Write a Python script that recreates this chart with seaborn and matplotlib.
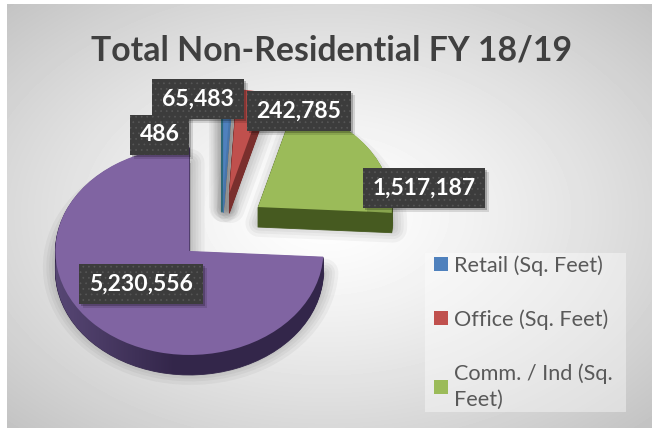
import numpy as np
import matplotlib
matplotlib.use("Agg")
import matplotlib.pyplot as plt
from matplotlib.patches import Rectangle
from matplotlib.transforms import IdentityTransform
import seaborn as sns

# values and labels
categories = ["Retail (Sq. Feet)", "Office (Sq. Feet)", "Comm. / Ind (Sq.\nFeet)", "Other", "Other 2"]
values = [65483, 242785, 1517187, 5230556, 486]
value_labels = ["65,483", "242,785", "1,517,187", "5,230,556", "486"]
explode = [0.33, 0.33, 0.33, 0.335, 0.335]
top_colors = ["#4f81bd", "#c0504d", "#9bbb59", "#8064a2", "#4bacc6"]
side_colors = ["#4775ab", "#7a2f2d", "#465a20", "#33264a", "#2c6a7a"]

W, H = 652, 428
RX, RY = 134, 104       # pixels for radius 1
CX, CY = 222, 227       # pixel position of the pie centre
DEPTH = 20

sns.set_theme(style="white")
plt.rcParams["font.family"] = ["Lato", "DejaVu Sans"]
plt.rcParams["hatch.linewidth"] = 0.5


def px(x, y):
    return (x - CX) / RX, (CY - y) / RY


fig = plt.figure(figsize=(W / 100, H / 100), dpi=100)
ax = fig.add_axes([0, 0, 1, 1])

pie_args = dict(explode=explode, startangle=90, counterclock=False, radius=1)

# soft shadow, wider and fainter outwards
for w in [20, 15, 11, 7, 3]:
    ax.pie(values, center=(0.01, -(DEPTH - 4) / RY), colors=["#000000"] * 5,
           wedgeprops=dict(lw=w, edgecolor="#000000", alpha=0.04, joinstyle="round"), **pie_args)

# side of the slices
for k in range(DEPTH, 0, -1):
    side, _ = ax.pie(values, center=(0, -k / RY), colors=side_colors,
                     wedgeprops=dict(lw=0.6, joinstyle="round"), **pie_args)
    for wedge, color in zip(side, side_colors):
        wedge.set_edgecolor(color)
    if k == DEPTH:
        purple_side = side[3]

wedges, _ = ax.pie(values, colors=top_colors, wedgeprops=dict(lw=0, edgecolor="none"), **pie_args)
for wedge in wedges:
    wedge.set_zorder(3)

ax.set_aspect("auto")
xlim = (-CX / RX, (W - CX) / RX)
ylim = ((CY - H) / RY, CY / RY)

# panel gradient, white in the middle and grey to the corners
yy, xx = np.mgrid[0:H, 0:W]
dist = np.sqrt(((xx - 326) / 326) ** 2 + ((yy - 214) / 214) ** 2) / np.sqrt(2)
shade = 1 - 0.24 * np.clip(dist, 0, 1) ** 1.3
shade[:4, :] = 1
shade[:, :7] = 1
ax.imshow(shade, cmap="gray", vmin=0, vmax=1, zorder=-5, aspect="auto",
          extent=[*xlim, *ylim], origin="upper")

# purple side gets lighter to the left
overlay = np.zeros((1, W, 4))
overlay[..., :3] = matplotlib.colors.to_rgb("#8a75b0")
overlay[..., 3] = np.clip((175 - np.arange(W)) / 120, 0, 1) * 0.42
img = ax.imshow(overlay, zorder=2, aspect="auto", extent=[*xlim, *ylim], origin="upper")
img.set_clip_path(purple_side)

ax.set_xlim(*xlim)
ax.set_ylim(*ylim)

fig.text(332 / W, 1 - 51 / H, "Total Non-Residential FY 18/19", ha="center", va="center",
         fontsize=24.3, fontweight="bold", color="#404040")

# data labels, centred on their pixel spot
label_spots = [(198, 99), (299, 111), (424, 188), (141, 284), (159.5, 135)]
labels = []
for text, (lx, ly) in zip(value_labels, label_spots):
    labels.append(ax.text(*px(lx, ly), text, ha="center", va="center", fontsize=16.5,
                          fontweight="bold", color="white", zorder=10,
                          bbox=dict(boxstyle="square,pad=0.42", facecolor="#3c3c3c",
                                    edgecolor="#565656", hatch="...", lw=0)))

# label shadows, placed once the boxes are measured
fig.canvas.draw()
for t in labels:
    box = t.get_bbox_patch().get_window_extent()
    for off, a in [(4, 0.12), (2, 0.22)]:
        ax.add_patch(Rectangle((box.x0 + off, box.y0 - off), box.width, box.height,
                               transform=IdentityTransform(), facecolor="black",
                               edgecolor="none", alpha=a, zorder=6))

# legend panel and entries
ax.add_patch(Rectangle(px(425, 412), 201 / RX, 159 / RY, facecolor="white", edgecolor="none",
                       alpha=0.4, zorder=8))
leg = ax.legend(wedges[:3], categories[:3], loc="upper left",
                bbox_to_anchor=(434 / W, 1 - 255 / H), frameon=False, fontsize=15.6,
                labelcolor="#595959", handlelength=0.65, handleheight=0.65, handletextpad=0.28,
                labelspacing=1.55, borderpad=0, borderaxespad=0)
for t in leg.get_texts():
    t.set_linespacing(1.4)
leg.set_zorder(9)

fig.savefig("out.png", dpi=100)
